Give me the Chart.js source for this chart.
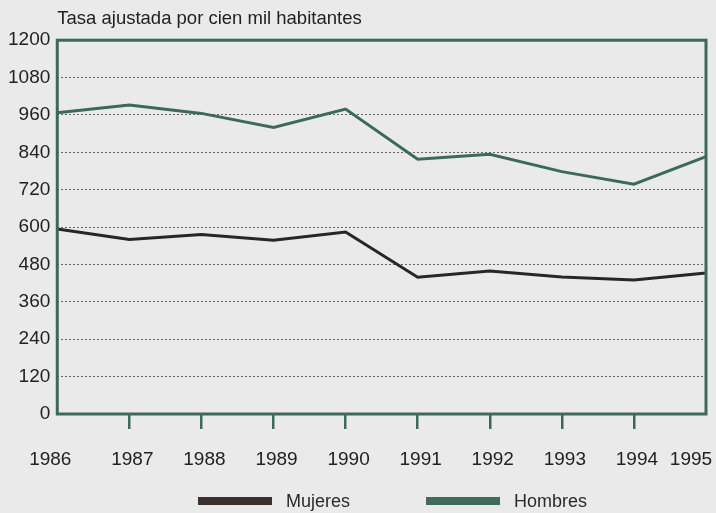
<!DOCTYPE html>
<html lang="es">
<head>
<meta charset="utf-8">
<title>Tasa ajustada por cien mil habitantes</title>
<script src="https://cdn.jsdelivr.net/npm/chart.js@4.4.1/dist/chart.umd.min.js"></script>
<style>
    body {
        margin: 0;
        background: #eaeaea;
        font-family: "Liberation Sans", Arial, Helvetica, sans-serif;
    }
    .wrap {
        position: relative;
        width: 716px;
        height: 513px;
    }
    #legend {
        position: absolute;
        left: 198px;
        top: 489px;
        display: flex;
        align-items: center;
        height: 24px;
    }
    .legend-item {
        display: flex;
        align-items: center;
        margin-right: 76px;
    }
    .legend-box {
        width: 74px;
        height: 8px;
        margin-right: 14px;
    }
    .legend-text {
        font-size: 18px;
        color: #2a2a2a;
    }
</style>
</head>
<body>
<div class="wrap">
    <canvas id="chart" width="716" height="513"></canvas>
    <div id="legend"></div>
</div>
<script>
// Data
const years = ['1986', '1987', '1988', '1989', '1990', '1991', '1992', '1993', '1994', '1995'];
const mujeres = [594, 560, 576, 558, 584, 439, 459, 440, 430, 453];
const hombres = [967, 992, 965, 920, 979, 818, 834, 778, 738, 826];
const yTicks = [0, 120, 240, 360, 480, 600, 720, 840, 960, 1080, 1200];

const green = '#3d6a56';
const dark = '#2b2626';
const fontFamily = '"Liberation Sans", Arial, Helvetica, sans-serif';

// Green frame round the plot area
const frame = {
    id: 'frame',
    afterDatasetsDraw(chart) {
        const { ctx, chartArea: a } = chart;
        ctx.save();
        ctx.strokeStyle = green;
        ctx.lineWidth = 3;
        ctx.strokeRect(a.left, a.top, a.right - a.left, a.bottom - a.top);
        ctx.restore();
    }
};

// Year labels under the axis (first and last pulled inwards like the original)
const yearLabels = {
    id: 'yearLabels',
    afterDraw(chart) {
        const { ctx, chartArea: a } = chart;
        const x = chart.scales.x;
        ctx.save();
        ctx.font = '19px ' + fontFamily;
        ctx.fillStyle = '#222';
        ctx.textAlign = 'center';
        ctx.textBaseline = 'middle';
        years.forEach((year, i) => {
            let px = x.getPixelForValue(i) + 3;
            if (i === 0) px = a.left - 7;
            if (i === years.length - 1) px = a.right - 15;
            ctx.fillText(year, px, a.bottom + 46);
        });
        ctx.restore();
    }
};

const chart = new Chart(document.getElementById('chart'), {
    type: 'line',
    data: {
        labels: years,
        datasets: [
            {
                label: 'Mujeres',
                data: mujeres,
                borderColor: dark,
                backgroundColor: '#3b3230',
                borderWidth: 3,
                pointRadius: 0,
                tension: 0
            },
            {
                label: 'Hombres',
                data: hombres,
                borderColor: green,
                backgroundColor: '#3f6b58',
                borderWidth: 3,
                pointRadius: 0,
                tension: 0
            }
        ]
    },
    options: {
        responsive: false,
        devicePixelRatio: 1,
        animation: false,
        layout: {
            padding: { left: 1, right: 10, top: 0, bottom: 84 }
        },
        plugins: {
            legend: { display: false },
            tooltip: { enabled: false },
            title: {
                display: true,
                text: 'Tasa ajustada por cien mil habitantes',
                align: 'start',
                fullSize: false,
                color: '#222',
                font: { family: fontFamily, size: 18.5, weight: 'normal' },
                padding: { top: 8, bottom: 10 }
            }
        },
        scales: {
            x: {
                type: 'category',
                offset: false,
                border: { display: false },
                grid: {
                    drawOnChartArea: false,
                    tickLength: 15,
                    lineWidth: 2.5,
                    color: (c) => (c.index === 0 || c.index === years.length - 1) ? 'transparent' : green
                },
                ticks: { display: false }
            },
            y: {
                min: 0,
                max: 1200,
                afterBuildTicks: (scale) => {
                    scale.ticks = yTicks.map(v => ({ value: v }));
                },
                border: { display: false, dash: [2, 2] },
                grid: {
                    drawTicks: false,
                    lineWidth: 1,
                    color: (c) => (c.tick && (c.tick.value === 0 || c.tick.value === 1200)) ? 'transparent' : '#666'
                },
                ticks: {
                    padding: 7,
                    color: '#222',
                    font: { family: fontFamily, size: 19 },
                    callback: (value) => String(value)
                }
            }
        }
    },
    plugins: [frame, yearLabels]
});

// HTML legend built from the datasets
const legend = document.getElementById('legend');
chart.data.datasets.forEach(ds => {
    const item = document.createElement('div');
    item.className = 'legend-item';
    item.innerHTML = `
        <span class="legend-box" style="background:${ds.backgroundColor}"></span>
        <span class="legend-text">${ds.label}</span>
    `;
    legend.appendChild(item);
});
</script>
</body>
</html>
